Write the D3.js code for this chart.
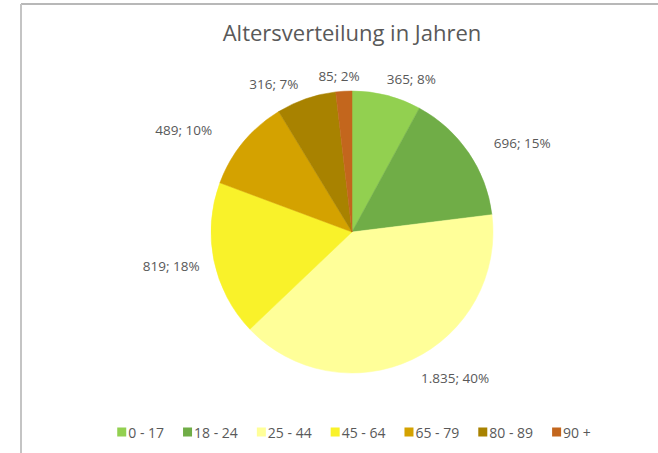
<!DOCTYPE html>
<html><head><meta charset="utf-8">
<script src="https://cdn.jsdelivr.net/npm/d3@7"></script>
<style>
html,body{margin:0;padding:0;background:#fff;}
svg{display:block;}
text{font-family:"Open Sans","Liberation Sans",sans-serif;}
</style></head>
<body>
<svg id="chart" width="658" height="453"></svg>
<script>
const title = "Altersverteilung in Jahren";
const categories = ["0 - 17","18 - 24","25 - 44","45 - 64","65 - 79","80 - 89","90 +"];
const values = [365, 696, 1835, 819, 489, 316, 85];
const valueLabels = ["365","696","1.835","819","489","316","85"];
const percentLabels = ["8%","15%","40%","18%","10%","7%","2%"];
const colors = ["#92D050","#70AD47","#FFFF99","#F9F22A","#D4A200","#A88200","#C3661D"];
const labelNudge = [[16,0],[22,0],[24,3],[-5,2],[-30,-1],[-21,1],[-3,2]];

const svg = d3.select("#chart");
const W = 658, H = 453;
const cx = 352, cy = 232, r = 141;

// frame
svg.append("line").attr("x1",21).attr("y1",4).attr("x2",W).attr("y2",4)
  .attr("stroke","#b8b8b8").attr("stroke-width",2);
svg.append("line").attr("x1",21).attr("y1",4).attr("x2",21).attr("y2",H)
  .attr("stroke","#c4c4c4").attr("stroke-width",2);

svg.append("text").attr("x",352).attr("y",41).attr("text-anchor","middle")
  .attr("font-size",22).attr("fill","#595959").text(title);

const data = categories.map((c,i)=>({cat:c, value:values[i], label:valueLabels[i], pct:percentLabels[i], color:colors[i], i}));
const pie = d3.pie().value(d=>d.value).sort(null);
const arcs = pie(data);
const arc = d3.arc().innerRadius(0).outerRadius(r);

const g = svg.append("g").attr("transform",`translate(${cx},${cy})`);
g.selectAll("path").data(arcs).enter().append("path")
  .attr("d",arc).attr("fill",d=>d.data.color)
  .attr("stroke",d=>d.data.color).attr("stroke-width",0.5);

// labels
const lg = g.append("g");
arcs.forEach(a=>{
  const mid = (a.startAngle + a.endAngle)/2;
  const s = Math.sin(mid), c = Math.cos(mid);
  const txt = a.data.label + "; " + a.data.pct;
  const t = lg.append("text").attr("font-size",13.5).attr("fill","#595959")
    .attr("text-anchor","middle").attr("dominant-baseline","central").text(txt);
  const w = t.node().getComputedTextLength(), h = 14;
  const d = r + 10;
  const nx = labelNudge[a.data.i][0], ny = labelNudge[a.data.i][1];
  const x = d*s + s*w/2 + nx;
  const y = -d*c - c*h/2 + ny;
  t.attr("x",x).attr("y",y);
});

// legend
const leg = svg.append("g");
const gap = 19;
let xpos = 0;
data.forEach(d=>{
  const it = leg.append("g");
  it.append("rect").attr("x",0).attr("y",-4.5).attr("width",9).attr("height",9).attr("fill",d.color);
  const t = it.append("text").attr("x",11).attr("y",0).attr("font-size",14).attr("fill","#595959")
    .attr("dominant-baseline","central").text(d.cat);
  const w = 11 + t.node().getComputedTextLength();
  it.attr("transform",`translate(${xpos},0)`);
  xpos += w + gap;
});
const legW = xpos - gap;
leg.attr("transform",`translate(${354 - legW/2},432)`);
</script>
</body></html>
